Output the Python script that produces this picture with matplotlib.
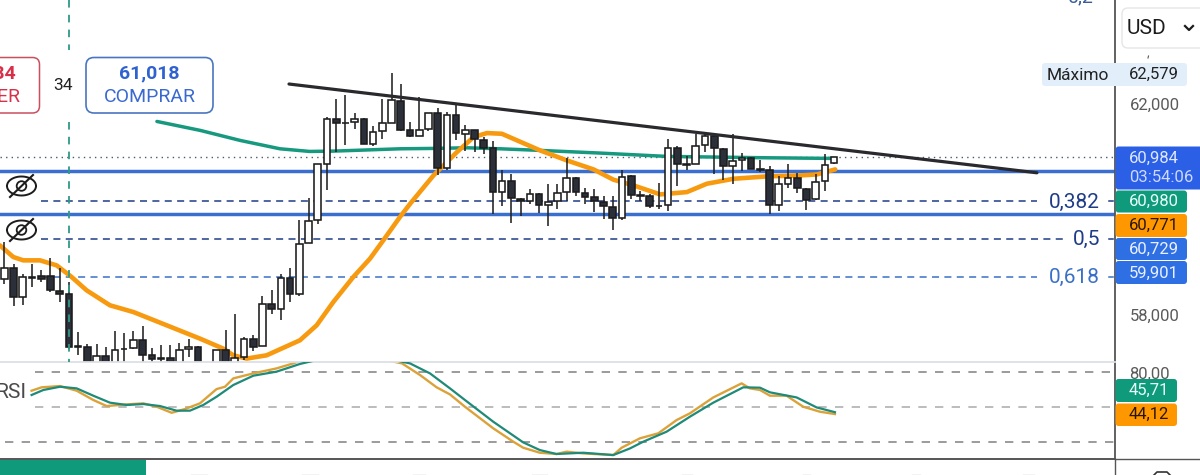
import matplotlib
matplotlib.use('Agg')
import matplotlib.pyplot as plt
import numpy as np
from matplotlib.patches import FancyBboxPatch, Rectangle, Circle

plt.rcParams['font.family'] = ['Roboto', 'DejaVu Sans']

# candles
opens = [58686, 58894, 58340, 58705, 58737, 58737, 58460, 58390, 57408, 57395,
         57050, 57225, 57020, 57350, 57382, 57534, 57237, 57175, 57187, 57030,
         57363, 57395, 56900, 57000, 57332, 57090, 57206, 57553, 57408, 58214,
         58119, 58705, 58403, 59367, 59789, 60860, 61710, 61630, 61647, 61710,
         61238, 61471, 61635, 62044, 61490, 61383, 61509, 61818, 60778, 61773,
         61427, 61490, 61314, 61156, 60324, 60532, 60198, 60148, 60280, 60085,
         60154, 60324, 60595, 60312, 60224, 60135, 60041, 59833, 60621, 60250,
         60249, 60055, 60072, 61162, 60836, 60860, 61219, 61383, 61143, 60816,
         60936, 60973, 60748, 60734, 60085, 60482, 60595, 60387, 60186, 60532,
         60873]
highs = [59380, 58970, 58781, 58957, 58857, 59083, 58894, 58623, 57678, 57445,
         57458, 57395, 57697, 57660, 57697, 57786, 57382, 57426, 57426, 57471,
         57553, 57408, 57000, 57345, 57723, 58025, 57584, 57615, 58353, 58466,
         58768, 58894, 59802, 60217, 60847, 61742, 62076, 62164, 61818, 61723,
         61566, 62076, 62579, 62372, 61647, 62120, 61818, 61912, 61836, 61975,
         61584, 61503, 61364, 61288, 60734, 60658, 60217, 60375, 60306, 60482,
         60482, 60973, 60608, 60400, 60387, 60243, 60249, 60747, 60639, 60343,
         60280, 60495, 61332, 61188, 60999, 61414, 61458, 61427, 61162, 61427,
         61062, 60986, 60936, 60810, 60621, 60847, 60684, 60400, 60658, 61036,
         60984]
lows = [58592, 58170, 58183, 58529, 58623, 58434, 58245, 57363, 57237, 57000,
        56950, 56900, 56960, 57050, 57363, 57100, 57050, 57080, 57000, 56980,
        57206, 56950, 56700, 56950, 56950, 57000, 57143, 57319, 57408, 58025,
        57899, 58245, 58365, 59367, 59726, 60356, 61080, 61206, 61521, 61225,
        61188, 61332, 61635, 61477, 61364, 61383, 61471, 60639, 60734, 61314,
        61093, 61080, 61049, 59902, 60054, 59739, 59865, 60104, 59928, 59682,
        59997, 60154, 60249, 60104, 59946, 59820, 59613, 59802, 60198, 60148,
        60028, 59997, 59965, 60438, 60734, 60847, 61080, 60658, 60545, 60482,
        60721, 60753, 60703, 59915, 59965, 60406, 60306, 59991, 60180, 60343,
        60860]
closes = [58888, 58340, 58718, 58718, 58686, 58466, 58403, 57395, 57395, 57111,
          57225, 57000, 57345, 57363, 57534, 57250, 57174, 57187, 57100, 57345,
          57395, 57030, 56800, 57345, 57050, 57187, 57553, 57395, 58214, 58119,
          58705, 58403, 59348, 59776, 60847, 61710, 61629, 61640, 61710, 61238,
          61458, 61635, 62057, 61490, 61383, 61503, 61818, 60778, 61773, 61440,
          61503, 61332, 61162, 60324, 60532, 60217, 60148, 60280, 60085, 60135,
          60306, 60595, 60324, 60230, 60154, 60054, 59833, 60608, 60261, 60260,
          60066, 60065, 61156, 60860, 60846, 61194, 61377, 61162, 60816, 60910,
          60967, 60753, 60758, 60085, 60482, 60595, 60406, 60180, 60513, 60841,
          60984]

# moving averages
teal_ma_x = [16.5, 21.2, 25.5, 29.8, 33, 35.6, 42.8, 46.4, 50, 53.6, 58, 64.4, 71.6, 82.4, 89.6]
teal_ma_y = [61660, 61490, 61301, 61143, 61093, 61099, 61143, 61150, 61162, 61143, 61112, 61062, 60999, 60973, 60961]
orange_ma_x = [-0.47, 0.97, 2.05, 3.86, 5.66, 7.28, 8.9, 11.42, 13.95, 17.55, 21.15, 23.68, 24.76, 26.2,
               28.36, 31.96, 33.77, 35.57, 37.73, 39.53, 40.97, 42.77, 43.88, 46.4, 48.93, 50.73, 52.17,
               53.79, 57.93, 60.82, 63.7, 65.86, 68.03, 70.91, 73.79, 75.95, 78.84, 82.44, 86.04, 87.85, 89.83]
orange_ma_y = [59316, 59096, 59033, 59033, 58938, 58718, 58466, 58183, 58056, 57805, 57553, 57363, 57237, 57175,
               57237, 57521, 57805, 58245, 58718, 59064, 59411, 59852, 60104, 60639, 61080, 61364, 61440,
               61427, 61112, 60923, 60753, 60558, 60450, 60280, 60324, 60482, 60576, 60621, 60639, 60658, 60753]

# drawn lines on the chart
trend_x = [30.88, 112.0]
trend_y = [62368, 60689]
solid_levels = [60729, 59901]
last_price = 60984
fib_levels = [60150, 59443, 58726]
fib_labels = ['0,382', '0,5', '0,618']
fib_colors = ['#1f3c88', '#1f3c88', '#3a70c8']
price_ticks = [58000, 62000]
price_tick_labels = ['58,000', '62,000']

# RSI panel
rsi_teal_x = [2.95, 4.22, 6.02, 7.82, 9.62, 11.42, 13.23, 15.03, 16.83, 18.63, 20.07, 21.51, 22.95, 24.76,
              26.92, 29.44, 31.96, 33.77, 38.27, 43.86, 46.02, 48.18, 49.8, 52.86, 56.1, 57.9, 59.7, 62.6,
              65.84, 67.64, 69.08, 71.6, 74.12, 76.65, 79.89, 81.7, 82.77, 85.66, 87.82, 89.8]
rsi_teal_y = [60.5, 64.8, 67.6, 66.2, 59.9, 53.9, 51.9, 52.7, 51.0, 47.0, 47.0, 51.9, 59.0, 69.1,
              77.1, 80.6, 87.2, 90.6, 97, 87.7, 79.1, 66.2, 56.2, 37.5, 19.7, 13.1, 9.7, 10.8,
              8.8, 14.5, 20.3, 28.9, 41.8, 53.9, 67.1, 66.8, 62.8, 58.4, 49.8, 45.7]
rsi_orange_x = [2.95, 4.04, 6.02, 7.82, 9.62, 11.06, 13.23, 15.03, 16.47, 18.09, 19.53, 21.15, 22.95, 23.86,
                24.76, 26.92, 29.44, 31.24, 32.68, 37.4, 43, 44.94, 46.74, 48.18, 49.8, 52.86, 55.03, 56.1,
                57.9, 59.7, 60.8, 62.6, 65.84, 66.74, 68.72, 70.7, 72.68, 74.12, 76.65, 79.71, 80.61, 81.7,
                82.77, 84.57, 86.37, 88.18, 89.8]
rsi_orange_y = [64.2, 67.1, 68.2, 64.2, 56.2, 51.0, 52.4, 53.3, 50.4, 45.2, 48.4, 53.3, 65.6, 67.6,
                74.8, 79.1, 83.4, 87.7, 92.0, 97, 87.7, 77.7, 67.1, 61.0, 50.4, 31.8, 20.3, 15.1,
                10.8, 9.7, 11.7, 10.2, 8.8, 15.1, 23.2, 27.5, 38.9, 44.7, 58.4, 70.5, 66.2, 64.8,
                59.9, 59.9, 50.4, 46.1, 44.1]
rsi_levels = [80, 50, 20]

W, H = 1200, 475
AXIS_X = 1115
XMIN, XMAX = -0.467, 120.47
# line points above were read with a 9.25 px bar step, the real step is 9.22
STEP_FIX = 9.25 / 9.22
TEAL = '#0f9a7c'
ORANGE = '#ff9800'
BLUE = '#2f6fe4'


def px_axes(fig, x0, y0, x1, y1):
    return fig.add_axes([x0 / W, 1 - y1 / H, (x1 - x0) / W, (y1 - y0) / H])


def fixed(xvals):
    return np.array(xvals) * STEP_FIX


fig = plt.figure(figsize=(12, 4.75), dpi=100, facecolor='white')

# main price panel
ax = px_axes(fig, 0, 0, AXIS_X, 361.5)
ax.set_xlim(XMIN, XMAX)
ax.set_ylim(57120, 63957)
for s in ['top', 'left', 'bottom']:
    ax.spines[s].set_visible(False)
ax.spines['right'].set_color('#555555')
ax.spines['right'].set_linewidth(1.3)
ax.set_xticks([])
ax.yaxis.tick_right()
ax.set_yticks(price_ticks)
ax.set_yticklabels(price_tick_labels, fontsize=12, color='#5a5a5a')
ax.tick_params(axis='y', length=0, pad=10.4)

ax.axhline(last_price, color='#4a5a70', lw=1.0, ls=(0, (1, 3)), zorder=1)
for lvl in solid_levels:
    ax.axhline(lvl, color='#3a6fd0', lw=2.5, zorder=1.5)
for lvl, c, end in zip(fib_levels, fib_colors, [112.0, 115.3, 112.0]):
    ax.plot([3.98, end], [lvl, lvl], color=c, lw=1.1, ls=(0, (4.6, 3.5)), zorder=1)
    ax.plot([119.8, 120.2], [lvl, lvl], color=c, lw=1.1, zorder=1)

ax.plot(fixed(teal_ma_x), teal_ma_y, color='#17997f', lw=2.5, zorder=2, solid_capstyle='round')
ax.plot(fixed(orange_ma_x), orange_ma_y, color='#f79a10', lw=3.3, zorder=2, solid_capstyle='round')

xs = np.arange(len(opens))
o = np.array(opens)
c = np.array(closes)
ax.vlines(xs, lows, highs, color='#222222', lw=1.15, zorder=3)
up = c >= o
ax.bar(xs, c - o, bottom=o, width=0.72,
       color=['white' if u else '#2b2f3a' for u in up],
       edgecolor='#1c1c1c', linewidth=1.15, zorder=3.5)

ax.plot(trend_x, trend_y, color='#2a2a2e', lw=2.3, zorder=4, solid_capstyle='round')

# RSI panel
rsi = px_axes(fig, 0, 362, AXIS_X, 459)
rsi.set_xlim(XMIN, XMAX)
rsi.set_ylim(5.4, 88.9)
rsi.spines['left'].set_visible(False)
rsi.spines['top'].set_color('#dcdfe4')
rsi.spines['top'].set_linewidth(1.3)
rsi.spines['bottom'].set_color('#555555')
rsi.spines['bottom'].set_linewidth(1.4)
rsi.spines['right'].set_color('#555555')
rsi.spines['right'].set_linewidth(1.3)
rsi.set_xticks([])
rsi.yaxis.tick_right()
rsi.set_yticks([80])
rsi.set_yticklabels(['80,00'], fontsize=12, color='#5a5a5a')
rsi.tick_params(axis='y', length=0, pad=10.4)
for lvl, start, col in zip(rsi_levels, [3.33, 3.33, 0.1], ['#8a8a8a', '#b0b0b0', '#8a8a8a']):
    rsi.plot([start, XMAX], [lvl, lvl], color=col, lw=1.2, ls=(0, (5, 5)), zorder=1)
rsi.plot(fixed(rsi_orange_x), rsi_orange_y, color='#dca23a', lw=1.7, zorder=2)
rsi.plot(fixed(rsi_teal_x), rsi_teal_y, color='#1f8a78', lw=1.6, zorder=3)

# overlay in pixel coordinates for the app's buttons and tags
ui = fig.add_axes([0, 0, 1, 1], facecolor='none')
ui.set_xlim(0, W)
ui.set_ylim(H, 0)
ui.axis('off')


def tag(x0, y0, x1, y1, color, ec='none', lw=0, r=3, z=6):
    ui.add_patch(FancyBboxPatch((x0 + r, y0 + r), x1 - x0 - 2 * r, y1 - y0 - 2 * r,
                                boxstyle=f'round,pad={r},rounding_size={r}',
                                fc=color, ec=ec, lw=lw, zorder=z))


def label(x, y, s, color, size, weight='normal', ha='center'):
    ui.text(x, y, s, color=color, fontsize=size, fontweight=weight, ha=ha, va='center', zorder=8)


# vertical cursor line
ui.plot([69, 69], [0, 50], color='#2f9a88', lw=1.3, ls=(0, (4.2, 4)), zorder=1)
ui.plot([69, 69], [122, 362], color='#2f9a88', lw=1.3, ls=(0, (4.2, 4)), zorder=1)

# sell / buy buttons, the sell one runs off the left edge
tag(-20, 57.5, 39.5, 113, 'white', ec='#c9505f', lw=1.1, r=7)
label(16, 73.5, '60,984', '#d9304a', 14, 'bold', ha='right')
label(21, 96.5, 'VENDER', '#d9304a', 14, ha='right')
label(62.5, 85, '34', '#222222', 12.5)
tag(86, 57.5, 213, 113, 'white', ec='#4a76bf', lw=1.2, r=8)
label(149.5, 73.5, '61,018', '#2f62d0', 14, 'bold')
label(149.5, 96.5, 'COMPRAR', '#3a6ad0', 14)

# hidden-line eye icons
for cy in [186, 230]:
    t = np.linspace(0, np.pi, 40)
    ex = 21.5 - 14.5 * np.cos(t)
    ui.plot(ex, cy - 9.5 * np.sin(t), color='#1c1c1c', lw=1.4, zorder=7)
    ui.plot(ex, cy + 9.5 * np.sin(t), color='#1c1c1c', lw=1.4, zorder=7)
    ui.add_patch(Circle((21.5, cy), 4.8, fc='none', ec='#1c1c1c', lw=1.3, zorder=7))
    ui.plot([10, 33], [cy + 11, cy - 11], color='#1c1c1c', lw=1.5, zorder=7)

label(11, 392, 'RSI', '#4a4a4a', 15)
label(1081, -3, '0,2', '#3a5a9a', 14)

# fib labels
label(1100, 202, fib_labels[0], fib_colors[0], 15, ha='right')
label(1100, 239, fib_labels[1], fib_colors[1], 15, ha='right')
label(1100, 277, fib_labels[2], fib_colors[2], 15, ha='right')

# USD selector
tag(1122, 8, 1215, 48, 'white', ec='#e6e6e6', lw=1.0, r=6)
label(1146, 28, 'USD', '#1c1c1c', 15)
ui.plot([1185, 1189, 1193], [26, 30, 26], color='#1c1c1c', lw=1.6, zorder=8)
ui.plot([1148.5, 1148], [56, 58], color='#555555', lw=0.8, zorder=8)

# high tag
tag(1042, 63, 1187, 86, '#e3eefb', r=3)
label(1078, 75, 'Máximo', '#222222', 12.5)
label(1154, 74, '62,579', '#222222', 12)

# last price and study tags
tag(1115.5, 146.5, 1205, 189.5, '#2a5fe6', r=3)
label(1154, 158, '60,984', '#dfe8ff', 12)
label(1161, 177, '03:54:06', '#cdd9ff', 12)
tag(1115.5, 190.5, 1187, 212.5, TEAL, r=3)
label(1154, 201, '60,980', '#e6fff8', 12)
tag(1115.5, 214, 1187, 237, ORANGE, r=3)
label(1154, 225, '60,771', '#2a1600', 12)
tag(1115.5, 238, 1187, 260, BLUE, r=3)
label(1154, 249, '60,729', '#eaf0ff', 12)
tag(1115.5, 261, 1187, 284, BLUE, r=3)
label(1154, 273, '59,901', '#eaf0ff', 12)
tag(1115.5, 379, 1177, 402, TEAL, r=3)
label(1149, 390, '45,71', '#e6fff8', 12)
tag(1115.5, 403.5, 1177, 426, ORANGE, r=3)
label(1149, 414.5, '44,12', '#2a1600', 12)

# footer, only the tops of the date labels show
ui.add_patch(Rectangle((0, 459.5), 145.5, 16, fc='#0f9a7c', ec='none', zorder=5))
ui.plot([1115, 1115], [459, 475], color='#555555', lw=1.0, zorder=5)
ui.plot([1115, 1200], [459, 459], color='#555555', lw=1.0, zorder=5)
ui.plot([1154, 1157, 1167, 1170], [475, 472, 472, 475], color='#333333', lw=1.2, zorder=5)
for x0, x1 in [(191, 207), (302, 318), (413, 425), (532, 547), (682, 692), (803, 810), (912, 920), (1023, 1034)]:
    ui.plot([x0, x1], [474.5, 474.5], color='#c4c4c4', lw=1.0, zorder=5)

plt.savefig('out.png', dpi=100)
